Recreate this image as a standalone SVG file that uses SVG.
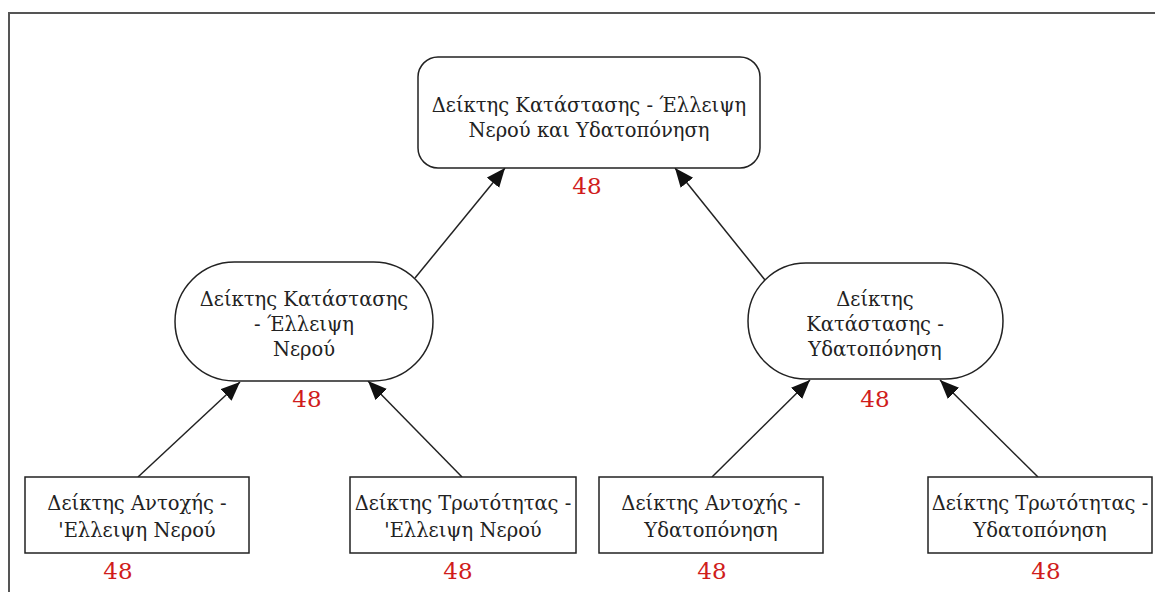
<svg xmlns="http://www.w3.org/2000/svg" width="1155" height="592" viewBox="0 0 1155 592">
  <style>
    .box { fill: #ffffff; stroke: #222222; stroke-width: 1.5; }
    .lbl { font-family: "DejaVu Serif", "Liberation Serif", serif; font-size: 19.5px; fill: #222222; text-anchor: middle; }
    .num { font-family: "DejaVu Serif", "Liberation Serif", serif; font-size: 23px; fill: #d01c1c; text-anchor: middle; }
    .edge { stroke: #222222; stroke-width: 1.5; fill: none; marker-end: url(#arrow); }
  </style>
  <defs>
    <marker id="arrow" markerUnits="userSpaceOnUse" markerWidth="20" markerHeight="18" refX="19" refY="8" orient="auto">
      <path d="M0,0 L19,8 L0,16 z" fill="#111111"/>
    </marker>
  </defs>

  <rect x="0" y="0" width="1155" height="592" fill="#ffffff"/>
  <!-- outer frame -->
  <path d="M9,592 L9,13 L1155,13" fill="none" stroke="#555555" stroke-width="2"/>

  <g id="connectors">
    <line class="edge" x1="415" y1="278" x2="505" y2="168"/>
    <line class="edge" x1="765" y1="280" x2="675" y2="168"/>
    <line class="edge" x1="138" y1="477" x2="240" y2="382"/>
    <line class="edge" x1="462" y1="477" x2="368" y2="381"/>
    <line class="edge" x1="712" y1="477" x2="810" y2="380"/>
    <line class="edge" x1="1038" y1="477" x2="940" y2="380"/>
  </g>

  <g id="node-top">
    <rect class="box" x="418" y="57" width="342" height="111" rx="20" ry="20"/>
    <text class="lbl" x="589" y="112">Δείκτης Κατάστασης - Έλλειψη</text>
    <text class="lbl" x="589" y="137">Νερού και Υδατοπόνηση</text>
    <text class="num" x="587" y="194">48</text>
  </g>

  <g id="node-mid-left">
    <rect class="box" x="175" y="262" width="258" height="119" rx="59.5" ry="59.5"/>
    <text class="lbl" x="304" y="306">Δείκτης Κατάστασης</text>
    <text class="lbl" x="304" y="331">-  Έλλειψη</text>
    <text class="lbl" x="304" y="356">Νερού</text>
    <text class="num" x="307" y="407">48</text>
  </g>

  <g id="node-mid-right">
    <rect class="box" x="748" y="263" width="255" height="116" rx="58" ry="58"/>
    <text class="lbl" x="875" y="306">Δείκτης</text>
    <text class="lbl" x="875" y="331">Κατάστασης -</text>
    <text class="lbl" x="875" y="356">Υδατοπόνηση</text>
    <text class="num" x="875" y="407">48</text>
  </g>

  <g id="node-leaf-1">
    <rect class="box" x="25" y="477" width="224" height="76"/>
    <text class="lbl" x="137" y="510">Δείκτης Αντοχής -</text>
    <text class="lbl" x="137" y="537">'Ελλειψη Νερού</text>
    <text class="num" x="118" y="579">48</text>
  </g>

  <g id="node-leaf-2">
    <rect class="box" x="350" y="477" width="226" height="76"/>
    <text class="lbl" x="463" y="510">Δείκτης Τρωτότητας -</text>
    <text class="lbl" x="463" y="537">'Ελλειψη Νερού</text>
    <text class="num" x="458" y="579">48</text>
  </g>

  <g id="node-leaf-3">
    <rect class="box" x="599" y="477" width="224" height="76"/>
    <text class="lbl" x="711" y="510">Δείκτης Αντοχής -</text>
    <text class="lbl" x="711" y="537">Υδατοπόνηση</text>
    <text class="num" x="712" y="579">48</text>
  </g>

  <g id="node-leaf-4">
    <rect class="box" x="928" y="477" width="224" height="76"/>
    <text class="lbl" x="1040" y="510">Δείκτης Τρωτότητας -</text>
    <text class="lbl" x="1040" y="537">Υδατοπόνηση</text>
    <text class="num" x="1046" y="579">48</text>
  </g>
</svg>
